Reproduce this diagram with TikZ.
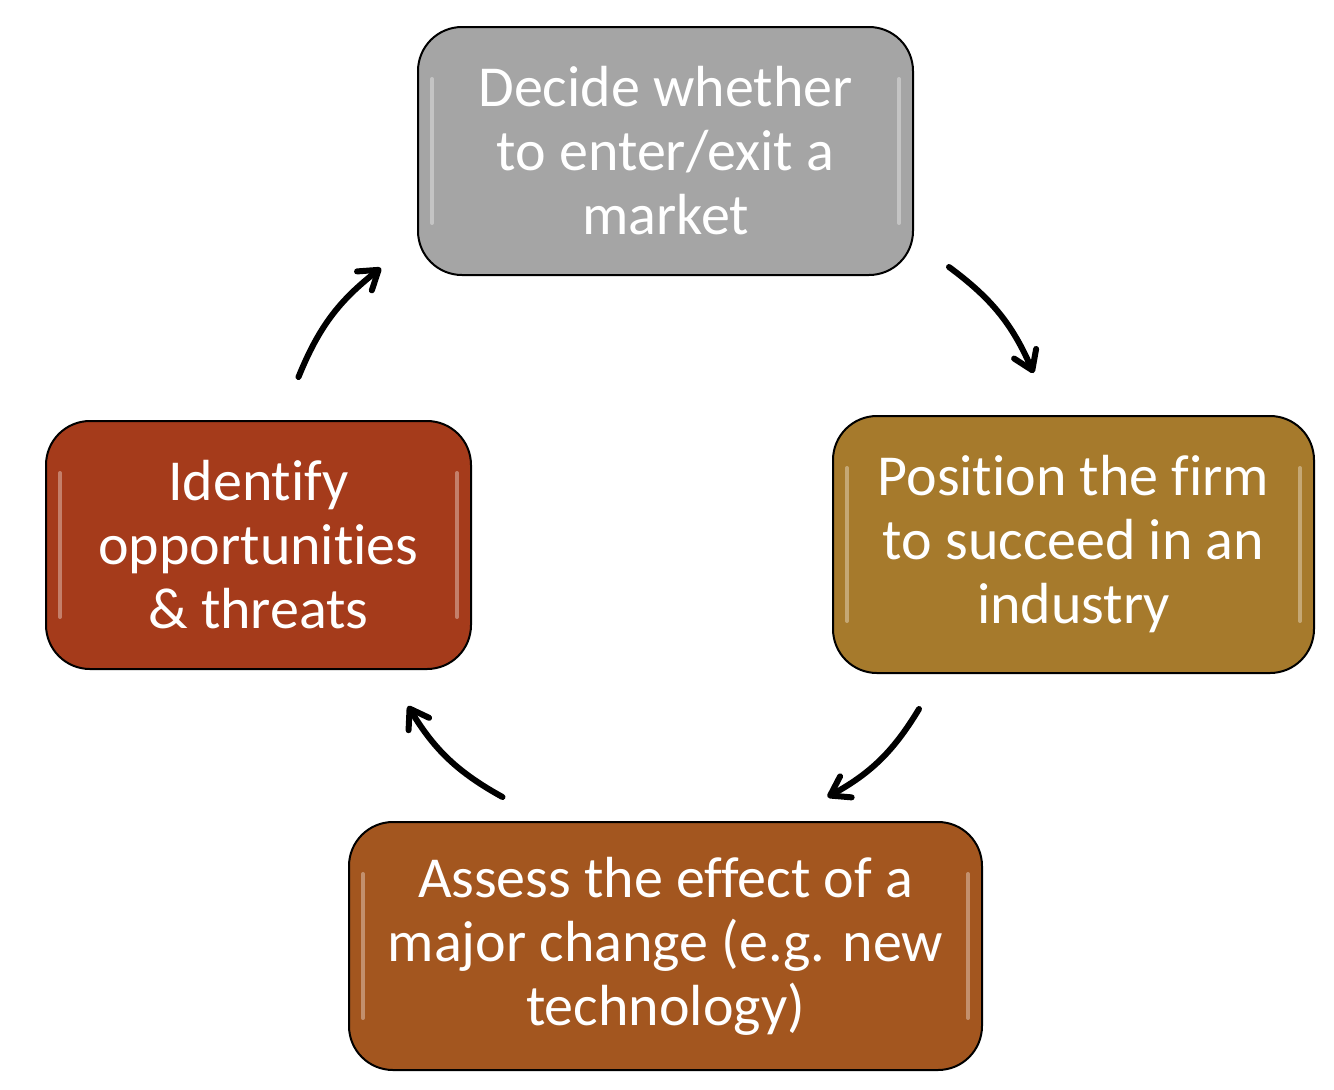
\documentclass[tikz,border=0pt]{standalone}
\usepackage{fontspec}
\setmainfont{Carlito}[Ligatures={NoCommon}]
\usepackage{xcolor}
\usepackage{tikz}
\usetikzlibrary{arrows.meta,positioning}
\definecolor{stepgray}{HTML}{A5A5A5}
\definecolor{stepgold}{HTML}{A67A2C}
\definecolor{steprust}{HTML}{A3561F}
\definecolor{stepred}{HTML}{A53B1B}
\tikzset{
  stagebox/.style={draw=black, line width=1pt, rounded corners=22pt, align=center, text=white,
    inner sep=4pt, minimum height=124pt, font=\fontsize{29}{32}\selectfont,
    path picture={
      \draw[white, opacity=.35, line width=2pt, line cap=round]
        ([shift={(7pt,-26pt)}]path picture bounding box.north west) -- ([shift={(7pt,26pt)}]path picture bounding box.south west);
      \draw[white, opacity=.35, line width=2pt, line cap=round]
        ([shift={(-7pt,-26pt)}]path picture bounding box.north east) -- ([shift={(-7pt,26pt)}]path picture bounding box.south east);
    }},
  cyclearrow/.style={-{Straight Barb[round, length=9pt, width=12pt]}, line width=3pt, line cap=round, draw=black}
}
\begin{document}
\begin{tikzpicture}[x=0.5pt, y=0.5pt]
  \useasboundingbox (0,0) rectangle (1334,-1089);
  \node[stagebox, fill=stepgray, minimum width=247.5pt] (decide) at (665.5,-151) {Decide whether\\to enter/exit a\\market};
  \node[stagebox, fill=stepgold, minimum width=240.5pt, minimum height=128.5pt] (position) at (1073.5,-544.5) {Position the firm\\to succeed in an\\industry};
  \node[stagebox, fill=steprust, minimum width=316.5pt] (assess) at (665.5,-946) {Assess the effect of a\\major change (e.g. new\\technology)};
  \node[stagebox, fill=stepred, minimum width=212.5pt] (identify) at (258.5,-545) {Identify\\opportunities\\\& threats};

  \draw[cyclearrow] ([shift={(35,9)}]decide.south east) to[bend left=15] ([shift={(-40,42)}]position.north);
  \draw[cyclearrow] ([shift={(87,-35)}]position.south west) to[bend left=15] ([shift={(162,24)}]assess.north);
  \draw[cyclearrow] ([shift={(-163,24)}]assess.north) to[bend left=15] ([shift={(-64,-36)}]identify.south east);
  \draw[cyclearrow] ([shift={(40,43)}]identify.north) to[bend left=15] ([shift={(-36,8)}]decide.south west);
\end{tikzpicture}
\end{document}
